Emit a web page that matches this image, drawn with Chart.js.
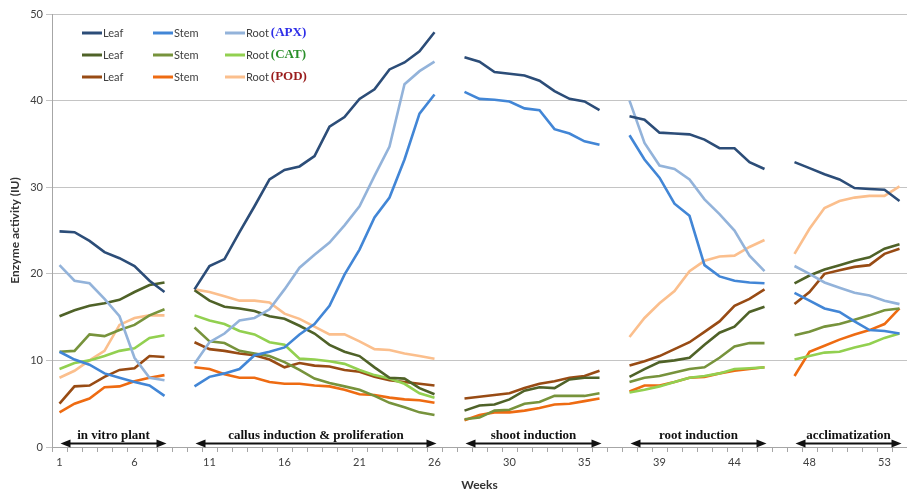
<!DOCTYPE html>
<html>
<head>
<meta charset="utf-8">
<title>Enzyme activity</title>
<script src="https://cdn.jsdelivr.net/npm/chart.js@4.4.0/dist/chart.umd.min.js"></script>
<style>
  html, body { margin: 0; padding: 0; background: #fff; }
</style>
</head>
<body>
<canvas id="enzymeChart" width="907" height="492"></canvas>
<script>
// Week labels per category slot ('' = gap between culture phases)
const weekLabels = [
    '1', '2', '3', '4', '5', '6', '7', '8', '9',
    '10', '11', '12', '13', '14', '15', '16', '17', '18', '19', '20', '21', '22', '23', '24', '25', '26', '',
    '27', '28', '29', '30', '31', '32', '33', '34', '35', '36', '',
    '37', '38', '39', '40', '41', '42', '43', '44', '45', '46', '',
    '47', '48', '49', '50', '51', '52', '53', '54'
];

// Phases: name + first/last category slot
const phaseNames = ['in vitro plant', 'callus induction & proliferation', 'shoot induction', 'root induction', 'acclimatization'];
const phaseStart = [0, 9, 27, 38, 49];
const phaseEnd = [7, 25, 36, 47, 56];

// APX
const apxLeaf = [
    24.9, 24.8, 23.8, 22.5, 21.8, 20.9, 19.2, 17.9, null,
    18.2, 20.9, 21.7, 24.8, 27.8, 30.9, 32.0, 32.4, 33.6, 37.0, 38.1, 40.2, 41.3, 43.6, 44.4, 45.7, 47.9, null,
    45.0, 44.5, 43.3, 43.1, 42.9, 42.3, 41.1, 40.2, 39.9, 38.9, null,
    38.2, 37.8, 36.3, 36.2, 36.1, 35.5, 34.5, 34.5, 32.9, 32.1, null,
    32.9, 32.2, 31.5, 30.9, 29.9, 29.8, 29.7, 28.4
];
const apxStem = [
    11.0, 10.1, 9.5, 8.5, 8.0, 7.5, 7.1, 5.9, null,
    7.0, 8.1, 8.5, 9.0, 10.6, 11.0, 11.5, 13.0, 14.2, 16.3, 19.9, 22.8, 26.5, 28.8, 33.2, 38.5, 40.7, null,
    41.0, 40.2, 40.1, 39.9, 39.1, 38.9, 36.7, 36.2, 35.3, 34.9, null,
    36.0, 33.2, 31.1, 28.1, 26.7, 21.0, 19.7, 19.2, 19.0, 18.9, null,
    17.8, 16.9, 16.0, 15.6, 14.5, 13.5, 13.4, 13.1
];
const apxRoot = [
    21.0, 19.2, 18.9, 17.1, 15.1, 10.3, 8.0, 7.7, null,
    9.6, 12.1, 13.1, 14.6, 14.9, 15.9, 18.2, 20.7, 22.2, 23.6, 25.6, 27.8, 31.3, 34.7, 41.9, 43.4, 44.5, null,
    null, null, null, null, null, null, null, null, null, null, null,
    40.0, 35.1, 32.5, 32.1, 30.9, 28.6, 26.9, 25.0, 22.1, 20.3, null,
    20.9, 20.0, 19.0, 18.4, 17.8, 17.5, 16.9, 16.5
];

// CAT
const catLeaf = [
    15.1, 15.8, 16.3, 16.6, 17.0, 17.9, 18.7, 19.0, null,
    18.1, 16.9, 16.2, 16.0, 15.7, 15.1, 14.8, 14.0, 13.1, 11.8, 11.0, 10.5, 9.2, 8.0, 7.9, 6.8, 6.1, null,
    4.2, 4.8, 4.9, 5.5, 6.5, 6.9, 6.8, 7.8, 8.0, 8.0, null,
    8.1, 9.0, 9.8, 10.0, 10.3, 11.8, 13.2, 13.9, 15.6, 16.2, null,
    18.9, 19.8, 20.5, 21.0, 21.5, 21.9, 22.9, 23.4
];
const catStem = [
    11.0, 11.1, 13.0, 12.8, 13.5, 14.1, 15.2, 15.9, null,
    13.8, 12.2, 12.0, 11.1, 10.8, 10.5, 9.8, 8.9, 7.9, 7.4, 7.0, 6.6, 5.9, 5.1, 4.6, 4.0, 3.7, null,
    3.2, 3.4, 4.2, 4.3, 5.0, 5.2, 5.9, 5.9, 5.9, 6.2, null,
    7.5, 8.0, 8.2, 8.6, 9.0, 9.2, 10.3, 11.6, 12.0, 12.0, null,
    12.9, 13.3, 13.9, 14.2, 14.7, 15.2, 15.8, 16.0
];
const catRoot = [
    9.0, 9.7, 10.0, 10.5, 11.1, 11.4, 12.6, 12.9, null,
    15.2, 14.6, 14.2, 13.4, 13.0, 12.1, 11.8, 10.2, 10.1, 9.9, 9.6, 8.9, 8.3, 7.9, 7.3, 6.2, 5.7, null,
    null, null, null, null, null, null, null, null, null, null, null,
    6.3, 6.6, 7.0, 7.5, 8.0, 8.2, 8.5, 9.0, 9.1, 9.2, null,
    10.1, 10.5, 10.9, 11.0, 11.5, 11.9, 12.6, 13.1
];

// POD
const podLeaf = [
    5.0, 7.0, 7.1, 8.1, 8.9, 9.1, 10.5, 10.4, null,
    12.1, 11.3, 11.1, 10.8, 10.6, 10.1, 9.2, 9.7, 9.4, 9.3, 8.9, 8.7, 8.1, 7.7, 7.5, 7.3, 7.1, null,
    5.6, 5.8, 6.0, 6.2, 6.8, 7.3, 7.6, 8.0, 8.2, 8.8, null,
    9.4, 9.9, 10.5, 11.3, 12.1, 13.3, 14.5, 16.3, 17.1, 18.2, null,
    16.5, 17.9, 20.0, 20.4, 20.8, 21.0, 22.3, 22.9
];
const podStem = [
    4.0, 5.0, 5.6, 6.9, 7.0, 7.6, 8.0, 8.3, null,
    9.2, 9.0, 8.4, 8.0, 8.0, 7.5, 7.3, 7.3, 7.1, 7.0, 6.6, 6.1, 6.0, 5.7, 5.5, 5.4, 5.1, null,
    3.1, 3.7, 4.0, 4.0, 4.2, 4.5, 4.9, 5.0, 5.3, 5.6, null,
    6.4, 7.1, 7.1, 7.5, 8.0, 8.1, 8.5, 8.8, 9.0, 9.2, null,
    8.2, 11.0, 11.7, 12.4, 13.0, 13.5, 14.2, 16.0
];
const podRoot = [
    8.0, 8.8, 10.0, 11.1, 14.1, 14.9, 15.2, 15.2, null,
    18.2, 17.9, 17.4, 16.9, 16.9, 16.7, 15.4, 14.8, 13.9, 13.0, 13.0, 12.2, 11.3, 11.2, 10.8, 10.5, 10.2, null,
    null, null, null, null, null, null, null, null, null, null, null,
    12.7, 14.9, 16.6, 18.0, 20.3, 21.5, 22.0, 22.1, 23.1, 23.9, null,
    22.3, 25.2, 27.6, 28.4, 28.8, 29.0, 29.0, 30.1
];

const enzymeNames = ['APX', 'CAT', 'POD'];
const enzymeColors = ['#2f2fe8', '#2a8f2a', '#9a1c1c'];
const organNames = ['Leaf', 'Stem', 'Root'];

const seriesData = [
    [apxLeaf, apxStem, apxRoot],
    [catLeaf, catStem, catRoot],
    [podLeaf, podStem, podRoot]
];
const seriesColors = [
    ['#2c4d78', '#4286d6', '#93b3da'],
    ['#4f6228', '#77933c', '#92d050'],
    ['#984b14', '#ee6b12', '#fbbf8d']
];

const LABEL_FONT = 'Lato, "Open Sans", sans-serif';
const SERIF_FONT = '"Liberation Serif", "DejaVu Serif", serif';

/**
 * Draws the 3x3 legend block in the top-left corner of the plot.
 */
const legendBlock = {
    id: 'legendBlock',
    afterDraw(chart) {
        const { ctx } = chart;
        const colX = [82, 153, 225];
        const rowY = [33, 55, 77];
        ctx.save();
        ctx.textBaseline = 'middle';
        enzymeNames.forEach((enz, r) => {
            organNames.forEach((organ, c) => {
                const x = colX[c], y = rowY[r];
                ctx.strokeStyle = seriesColors[r][c];
                ctx.lineWidth = 3;
                ctx.beginPath();
                ctx.moveTo(x, y);
                ctx.lineTo(x + 20, y);
                ctx.stroke();
                ctx.fillStyle = '#404040';
                ctx.font = '11px ' + LABEL_FONT;
                ctx.textAlign = 'left';
                ctx.fillText(organ, x + 21, y);
                if (c === 2) {
                    const w = ctx.measureText(organ).width;
                    ctx.font = 'bold 13px ' + SERIF_FONT;
                    ctx.fillStyle = enzymeColors[r];
                    ctx.fillText('(' + enz + ')', x + 23 + w, y);
                }
            });
        });
        ctx.restore();
    }
};

/**
 * Draws the phase captions with double-headed arrows above the x axis.
 */
const phaseArrows = {
    id: 'phaseArrows',
    afterDraw(chart) {
        const { ctx, chartArea } = chart;
        const xScale = chart.scales.x;
        const y = chartArea.bottom - 3.5;
        ctx.save();
        ctx.fillStyle = '#111';
        ctx.strokeStyle = '#111';
        phaseNames.forEach((name, i) => {
            const x0 = xScale.getPixelForValue(phaseStart[i]) + 1;
            const x1 = xScale.getPixelForValue(phaseEnd[i]) + 2;
            ctx.lineWidth = 2;
            ctx.beginPath();
            ctx.moveTo(x0 + 6, y);
            ctx.lineTo(x1 - 6, y);
            ctx.stroke();
            // arrow heads
            ctx.beginPath();
            ctx.moveTo(x0, y);
            ctx.lineTo(x0 + 10, y - 4);
            ctx.lineTo(x0 + 10, y + 4);
            ctx.closePath();
            ctx.fill();
            ctx.beginPath();
            ctx.moveTo(x1, y);
            ctx.lineTo(x1 - 10, y - 4);
            ctx.lineTo(x1 - 10, y + 4);
            ctx.closePath();
            ctx.fill();
            ctx.font = 'bold 13px ' + SERIF_FONT;
            ctx.textAlign = 'center';
            ctx.textBaseline = 'alphabetic';
            ctx.fillText(name, (x0 + x1) / 2, y - 5);
        });
        ctx.restore();
    }
};

function buildDatasets() {
    const sets = [];
    seriesData.forEach((group, r) => {
        group.forEach((values, c) => {
            sets.push({
                label: organNames[c] + ' ' + enzymeNames[r],
                data: values,
                borderColor: seriesColors[r][c],
                backgroundColor: seriesColors[r][c],
                borderWidth: 2.6,
                pointRadius: 0,
                tension: 0,
                spanGaps: false,
                fill: false
            });
        });
    });
    return sets;
}

function renderEnzymeChart() {
    const ctx = document.getElementById('enzymeChart');
    new Chart(ctx, {
        type: 'line',
        data: {
            labels: weekLabels,
            datasets: buildDatasets()
        },
        options: {
            responsive: false,
            animation: false,
            layout: { padding: { top: 14, right: 0, left: 0, bottom: 0 } },
            plugins: {
                legend: { display: false },
                tooltip: { enabled: false }
            },
            scales: {
                x: {
                    type: 'category',
                    offset: true,
                    afterFit: (s) => { s.height = 45; },
                    grid: {
                        offset: true,
                        drawOnChartArea: false,
                        drawTicks: true,
                        tickLength: 5,
                        color: '#a6a6a6'
                    },
                    border: { display: true, color: '#a6a6a6' },
                    ticks: {
                        autoSkip: false,
                        maxRotation: 0,
                        padding: 4,
                        color: '#404040',
                        font: { family: LABEL_FONT, size: 11 },
                        callback: (val, i) => (i % 5 === 0 ? weekLabels[i] : '')
                    },
                    title: {
                        display: true,
                        text: 'Weeks',
                        color: '#333',
                        font: { family: LABEL_FONT, size: 12, weight: 'bold' },
                        padding: { top: 1, bottom: 0 }
                    }
                },
                y: {
                    min: 0,
                    max: 50,
                    afterFit: (s) => { s.width = 52; },
                    grid: {
                        color: '#c4c4c4',
                        drawTicks: true,
                        tickLength: 6
                    },
                    border: { display: true, color: '#a6a6a6' },
                    ticks: {
                        stepSize: 10,
                        padding: 3,
                        color: '#404040',
                        font: { family: LABEL_FONT, size: 11 }
                    },
                    title: {
                        display: true,
                        text: 'Enzyme activity (IU)',
                        color: '#333',
                        font: { family: LABEL_FONT, size: 12, weight: 'bold' },
                        padding: { top: 8, bottom: 0 }
                    }
                }
            }
        },
        plugins: [legendBlock, phaseArrows]
    });
}

document.addEventListener('DOMContentLoaded', renderEnzymeChart);
</script>
</body>
</html>
